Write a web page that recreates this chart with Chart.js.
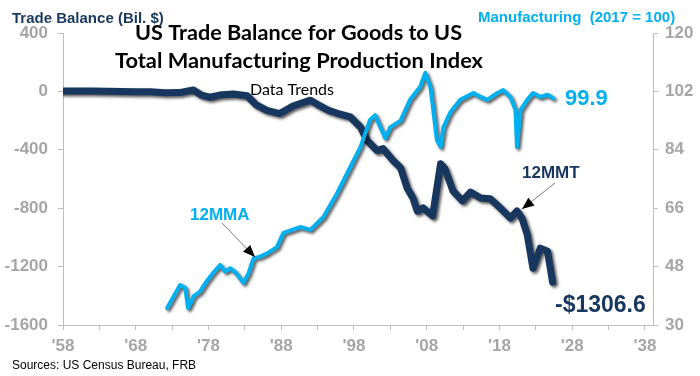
<!DOCTYPE html>
<html>
<head>
<meta charset="utf-8">
<script src="https://cdn.jsdelivr.net/npm/chart.js@4.4.1/dist/chart.umd.min.js"></script>
<style>
  body { margin: 0; background: #fff; }
</style>
</head>
<body>
<canvas id="trade_mfg" width="700" height="376"></canvas>
<script>
// trade balance for goods, 12 month moving total (bil. $)
var tbYears = [1958, 1960, 1962, 1964, 1966, 1968, 1970, 1972, 1974, 1975.9, 1977, 1978.2, 1979.5,
  1981.4, 1983.3, 1984.5, 1986, 1987.8, 1989.6, 1992, 1993, 1994.5, 1995.7, 1997.5, 1998.9, 1999.8,
  2001.2, 2002, 2003.4, 2004.4, 2005.3, 2006.1, 2006.7, 2007.5, 2008.8, 2009.9, 2010.5, 2011.6,
  2012.9, 2014, 2015.4, 2016.7, 2018.1, 2019.5, 2020.4, 2021.1, 2021.8, 2022.6, 2023.6, 2024.6, 2025.3];
var tbValues = [3, 2, 2, 1, 0, -2, -3, -10, -8, 10, -25, -40, -25,
  -18, -30, -90, -130, -152, -100, -60, -90, -130, -150, -175, -245, -337,
  -406, -392, -475, -523, -661, -730, -820, -798, -853, -496, -530, -681,
  -750, -690, -730, -735, -798, -867, -819, -870, -977, -1211, -1074, -1094, -1306.6];

// total manufacturing production index, 12 month moving average (2017 = 100)
var mfgYears = [1972.3, 1973, 1974.1, 1974.8, 1975.2, 1976, 1976.8, 1977.6, 1978.6, 1979.6, 1980.3,
  1981, 1981.8, 1982.8, 1983.5, 1984.2, 1985, 1986, 1987.4, 1988.3, 1990.6, 1992, 1993.8, 1995.7,
  1997.5, 1998.9, 2000.2, 2000.9, 2001.6, 2002.3, 2003, 2004.4, 2005.7, 2007.1, 2007.8, 2008.5,
  2008.9, 2009.4, 2009.9, 2010.3, 2011.2, 2012.6, 2014.4, 2015.4, 2016.3, 2017.7, 2018.5, 2019.5,
  2020.2, 2020.4, 2020.9, 2021.8, 2022.6, 2023.6, 2024.6, 2025.4];
var mfgValues = [35.2, 38, 42.3, 41.5, 35.2, 39, 40.2, 43, 46, 48.5, 46.5,
  47.5, 46, 43, 46, 50.6, 51, 52, 54, 58.4, 60.2, 59.3, 63.3, 70.7,
  78.7, 84.9, 93.2, 94.7, 91.1, 87.6, 91, 93, 99.4, 103.4, 107.7, 103.4,
  96.3, 87.0, 84.9, 91.0, 95.4, 99.4, 101.5, 100.3, 99.4, 101.5, 102.4, 100.3,
  96.3, 84.9, 96.3, 99.4, 101.5, 100.3, 101, 99.9];

var xTicks = [1958, 1963, 1968, 1973, 1978, 1983, 1988, 1993, 1998, 2003, 2008, 2013, 2018, 2023, 2028, 2033, 2038];

var navy = '#17375E';
var blue = '#00B0F0';
var gray = '#A6A6A6';
var axisGray = '#BFBFBF';

function pts(xs, ys) {
  return xs.map(function (x, i) { return { x: x, y: ys[i] }; });
}

// dark drop shadow under both lines
var shadowPlugin = {
  id: 'shadow',
  beforeDatasetDraw: function (chart) {
    var c = chart.ctx;
    c.save();
    c.shadowColor = 'rgba(0,0,0,0.65)';
    c.shadowBlur = 3;
    c.shadowOffsetX = 2;
    c.shadowOffsetY = 2;
  },
  afterDatasetDraw: function (chart) {
    chart.ctx.restore();
  }
};

function fitText(c, txt, x, y, w) {
  var m = c.measureText(txt).width;
  c.save();
  c.translate(x, y);
  c.scale(w / m, 1);
  c.fillText(txt, 0, 0);
  c.restore();
}

function arrow(c, x1, y1, x2, y2) {
  c.save();
  c.strokeStyle = '#595959';
  c.lineWidth = 0.8;
  c.beginPath();
  c.moveTo(x1, y1);
  c.lineTo(x2, y2);
  c.stroke();
  var a = Math.atan2(y2 - y1, x2 - x1);
  c.fillStyle = '#000';
  c.beginPath();
  c.moveTo(x2, y2);
  c.lineTo(x2 - 12 * Math.cos(a) + 5 * Math.sin(a), y2 - 12 * Math.sin(a) - 5 * Math.cos(a));
  c.lineTo(x2 - 12 * Math.cos(a) - 5 * Math.sin(a), y2 - 12 * Math.sin(a) + 5 * Math.cos(a));
  c.closePath();
  c.fill();
  c.restore();
}

var textPlugin = {
  id: 'texts',
  afterDraw: function (chart) {
    var c = chart.ctx;
    c.save();
    c.textBaseline = 'alphabetic';
    c.textAlign = 'left';

    c.fillStyle = '#000';
    c.font = 'bold 21px Lato';
    fitText(c, 'US Trade Balance for Goods to US', 135, 40, 327);
    fitText(c, 'Total Manufacturing Production Index', 115, 68, 368);
    c.font = '16px Lato';
    fitText(c, 'Data Trends', 250, 95, 84);

    c.font = 'bold 15px "Liberation Sans"';
    c.fillStyle = navy;
    c.fillText('Trade Balance (Bil. $)', 12, 23);
    c.fillStyle = blue;
    c.fillText('Manufacturing  (2017 = 100)', 478, 22);

    c.font = 'bold 22px "Liberation Sans"';
    c.fillStyle = blue;
    c.fillText('99.9', 565, 105);
    c.font = 'bold 23px "Liberation Sans"';
    c.fillStyle = navy;
    c.fillText('-$1306.6', 555, 312);

    c.font = 'bold 17px "Liberation Sans"';
    c.fillStyle = blue;
    c.fillText('12MMA', 190, 220);
    c.fillStyle = navy;
    c.fillText('12MMT', 522, 178);

    c.font = '12px "Liberation Sans"';
    c.fillStyle = '#000';
    c.fillText('Sources: US Census Bureau, FRB', 12, 369);
    c.restore();

    arrow(c, 222, 223, 255, 257);
    arrow(c, 555, 183, 522, 209);
  }
};

var ctx = document.getElementById('trade_mfg').getContext('2d');
var chart = new Chart(ctx, {
  type: 'line',
  data: {
    datasets: [{
      label: 'Manufacturing',
      data: pts(mfgYears, mfgValues),
      yAxisID: 'y1',
      borderColor: blue,
      borderWidth: 4,
      pointRadius: 0,
      tension: 0,
      borderJoinStyle: 'round',
      borderCapStyle: 'round'
    }, {
      label: 'Trade Balance',
      data: pts(tbYears, tbValues),
      yAxisID: 'y',
      borderColor: navy,
      borderWidth: 7,
      pointRadius: 0,
      tension: 0,
      borderJoinStyle: 'round',
      borderCapStyle: 'round'
    }]
  },
  options: {
    responsive: false,
    animation: false,
    layout: { padding: { top: 33, left: 0, right: 0, bottom: 0 } },
    plugins: {
      legend: { display: false },
      tooltip: { enabled: false }
    },
    scales: {
      x: {
        type: 'linear',
        min: 1958,
        max: 2039.1,
        afterBuildTicks: function (s) {
          s.ticks = xTicks.map(function (v) { return { value: v }; });
        },
        afterFit: function (s) { s.height = 51; },
        grid: { drawOnChartArea: false, tickLength: 5, color: axisGray },
        border: { color: axisGray },
        ticks: {
          autoSkip: false,
          maxRotation: 0,
          padding: 6,
          color: gray,
          font: { family: 'Liberation Sans', size: 17, weight: 'bold' },
          callback: function (v) {
            return (v - 1958) % 10 === 0 ? "'" + String(v).slice(2) : '';
          }
        }
      },
      y: {
        position: 'left',
        min: -1600,
        max: 400,
        afterFit: function (s) { s.width = 63; },
        grid: { drawOnChartArea: false, tickLength: 5, color: axisGray },
        border: { color: axisGray },
        ticks: {
          stepSize: 400,
          padding: 10,
          color: gray,
          font: { family: 'Liberation Sans', size: 17, weight: 'bold' },
          callback: function (v) { return String(v); }
        }
      },
      y1: {
        position: 'right',
        min: 30,
        max: 120,
        afterFit: function (s) { s.width = 47; },
        grid: { drawOnChartArea: false, tickLength: 5, color: axisGray },
        border: { color: axisGray },
        ticks: {
          stepSize: 18,
          padding: 7,
          color: gray,
          font: { family: 'Liberation Sans', size: 17, weight: 'bold' },
          callback: function (v) { return String(v); }
        }
      }
    }
  },
  plugins: [shadowPlugin, textPlugin]
});
</script>
</body>
</html>
